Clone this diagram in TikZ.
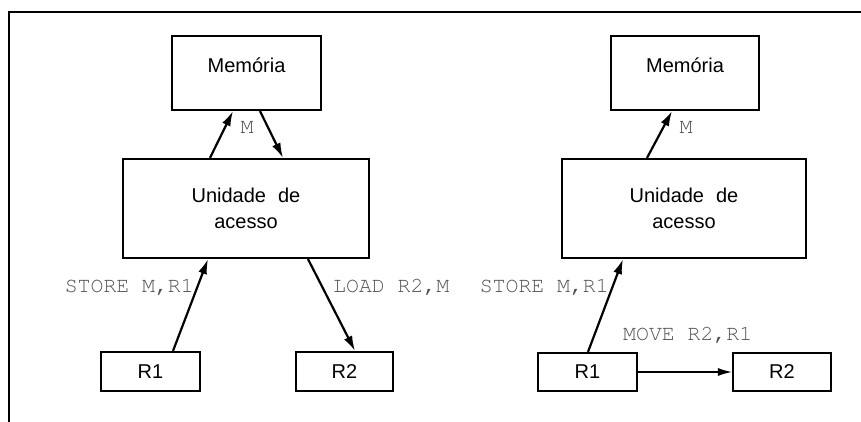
\documentclass[tikz,border=0pt]{standalone}
\usepackage{fontspec}
\setmainfont{Liberation Sans}
\newcommand\opfont{\fontencoding{T1}\fontfamily{pcr}\selectfont}
\usetikzlibrary{arrows.meta}
\definecolor{labelgray}{HTML}{505050}
\tikzset{
  unit/.style={draw, line width=2.2pt, inner sep=0pt, align=center,
    font=\fontsize{20}{26}\selectfont},
  memlabel/.style={text height=14pt, text depth=14pt},
  op/.style={text=labelgray, inner sep=0pt, font=\opfont\fontsize{21.5}{24}\selectfont},
  flow/.style={line width=2.2pt, -{Latex[length=15pt,width=9pt]}},
  thinflow/.style={line width=1.2pt, -{Latex[length=14pt,width=8pt]}},
}
\begin{document}
\begin{tikzpicture}[x=1pt, y=-1pt]
\useasboundingbox (0,0) rectangle (861,422);
% frame
\draw[line width=1.5pt] (9,422) -- (9,12) -- (861,12);

% left: store and load through the access unit
\node[unit, memlabel, minimum width=149pt, minimum height=74pt] (mem1) at (246.5,73) {Memória};
\node[unit, minimum width=246pt, minimum height=99pt] (ua1) at (246,208.5) {Unidade\hspace{12pt}de\\acesso};
\node[unit, minimum width=99pt, minimum height=39pt] (r1a) at (150.5,371.5) {R1};
\node[unit, minimum width=97pt, minimum height=39pt] (r2a) at (344.5,371.5) {R2};

\draw[flow] ([xshift=-36pt]ua1.north) -- ([xshift=-13.5pt]mem1.south);
\draw[flow] ([xshift=13.5pt]mem1.south) -- ([xshift=37pt]ua1.north);
\draw[flow] ([xshift=22.5pt]r1a.north) -- ([xshift=-38pt]ua1.south);
\draw[flow] ([xshift=62pt]ua1.south) -- ([xshift=10.5pt]r2a.north);

\node[op] (m1) at (247,128) {M};
\node[op, anchor=east] (st1) at (194,287) {STORE M,R1};
\node[op, anchor=west] (ld1) at (333,287) {LOAD R2,M};

% right: store followed by a register move
\node[unit, memlabel, minimum width=148pt, minimum height=74pt] (mem2) at (685,73) {Memória};
\node[unit, minimum width=244pt, minimum height=99pt] (ua2) at (684,208.5) {Unidade\hspace{12pt}de\\acesso};
\node[unit, minimum width=99pt, minimum height=38pt] (r1b) at (587.5,372) {R1};
\node[unit, minimum width=98pt, minimum height=38pt] (r2b) at (782,372) {R2};

\draw[flow] ([xshift=-37pt]ua2.north) -- ([xshift=-13pt]mem2.south);
\draw[flow] ([xshift=0.5pt]r1b.north) -- ([xshift=-61pt]ua2.south);
\draw[thinflow] (r1b.east) -- (r2b.west);

\node[op] (m2) at (686,128) {M};
\node[op, anchor=east] (st2) at (609,287) {STORE M,R1};
\node[op, anchor=west] (mv2) at (623,335) {MOVE R2,R1};
\end{tikzpicture}
\end{document}
